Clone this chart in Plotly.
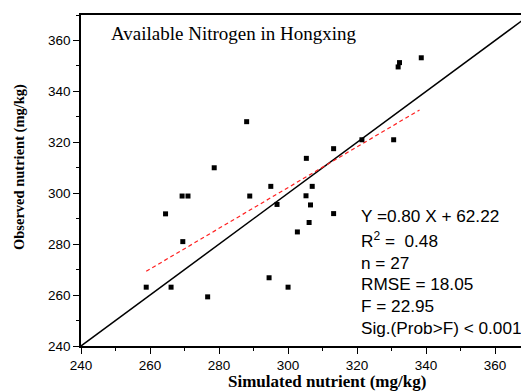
import plotly.graph_objects as go

# Data
simulated = [288.0, 278.6, 269.3, 271.0, 288.9, 264.5, 269.5, 258.9, 266.1, 276.7,
             313.2, 305.3, 295.0, 307.0, 305.2, 296.8, 306.5, 313.2, 306.1, 302.7,
             294.5, 300.0, 321.4, 332.3, 331.9, 338.6, 330.6]
observed = [328.1, 310.0, 298.9, 298.9, 298.9, 291.9, 281.0, 263.1, 263.1, 259.3,
            317.5, 313.7, 302.7, 302.7, 299.0, 295.6, 295.4, 292.0, 288.5, 284.8,
            266.8, 263.1, 321.0, 351.3, 349.6, 353.2, 321.0]

slope = 0.80
intercept = 62.22
fit_x = [258.9, 338.1]
fit_y = [slope * v + intercept for v in fit_x]
one_to_one = [240, 380]

x_range = [240, 367.5]
y_range = [240, 370]
x_ticks = [240, 260, 280, 300, 320, 340, 360]
y_ticks = [240, 260, 280, 300, 320, 340, 360]

stats_lines = ["Y =0.80 X + 62.22", "R<sup>2</sup> =  0.48", "n = 27",
               "RMSE = 18.05", "F = 22.95", "Sig.(Prob>F) < 0.001"]

fig = go.Figure()
fig.add_trace(go.Scatter(x=one_to_one, y=one_to_one, mode="lines",
                         line=dict(color="black", width=1.5), showlegend=False))
fig.add_trace(go.Scatter(x=fit_x, y=fit_y, mode="lines",
                         line=dict(color="#ff2020", width=1.2, dash="4px,3px"), showlegend=False))
fig.add_trace(go.Scatter(x=simulated, y=observed, mode="markers",
                         marker=dict(symbol="square", size=5, color="black"), showlegend=False))

W, H = 521, 392
L, T, B, R = 81, 15, 46, 0
pw = W - L - R
ph = H - T - B

def px_to_paper(px, py):
    return (px - L) / pw, 1 - (py - T) / ph

annotations = []
ax, ay = px_to_paper(109, 33)
annotations.append(dict(text="Available Nitrogen in Hongxing", x=ax, y=ay, xref="paper", yref="paper",
                        xanchor="left", yanchor="middle", showarrow=False,
                        font=dict(family="Liberation Serif", size=19, color="black")))
ys = [216, 239.5, 262.5, 284, 305.5, 328]
for txt, yy in zip(stats_lines, ys):
    sx, sy = px_to_paper(359, yy)
    annotations.append(dict(text=txt, x=sx, y=sy, xref="paper", yref="paper",
                            xanchor="left", yanchor="middle", showarrow=False,
                            font=dict(family="Liberation Sans", size=17.2, color="black")))
tx, ty = px_to_paper(327, 381.5)
annotations.append(dict(text="<b>Simulated nutrient (mg/kg)</b>", x=tx, y=ty, xref="paper", yref="paper",
                        xanchor="center", yanchor="middle", showarrow=False, borderpad=0,
                        font=dict(family="Liberation Serif", size=17, color="black")))
yx, yy2 = px_to_paper(20, 167)
annotations.append(dict(text="<b>Observed nutrient (mg/kg)</b>", x=yx, y=yy2, xref="paper", yref="paper",
                        xanchor="center", yanchor="middle", showarrow=False, textangle=-90,
                        font=dict(family="Liberation Serif", size=14.5, color="black")))

axis_common = dict(showgrid=False, zeroline=False, showline=True, linecolor="black", linewidth=1.5,
                   ticks="outside", ticklen=6, tickwidth=1.2, tickcolor="black",
                   tickfont=dict(family="Liberation Sans", size=13.5, color="black"),
                   minor=dict(ticks="outside", ticklen=3, tickwidth=1.2, tickcolor="black", dtick=10))

fig.update_layout(
    width=W, height=H, margin=dict(l=L, r=R, t=T, b=B),
    paper_bgcolor="white", plot_bgcolor="white",
    xaxis=dict(range=x_range, tickvals=x_ticks, mirror=True, **axis_common),
    yaxis=dict(range=y_range, tickvals=y_ticks, **axis_common),
    annotations=annotations,
)

fig.write_html("out.html")
